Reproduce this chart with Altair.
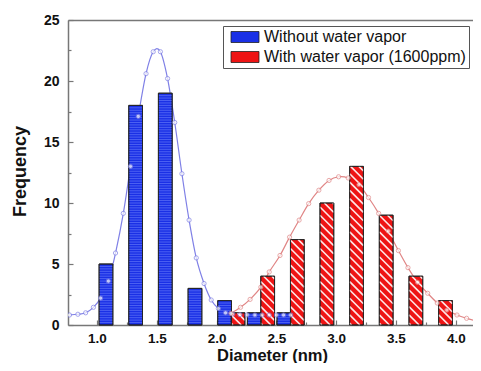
import altair as alt
import pandas as pd
import numpy as np

# ---------------- data ----------------
blue_label = "Without water vapor"
red_label = "With water vapor (1600ppm)"

blue_centers = [1.075, 1.323, 1.571, 1.819, 2.067, 2.315, 2.563]
blue_counts = [5, 18, 19, 3, 2, 1, 1]

red_centers = [2.179, 2.427, 2.675, 2.922, 3.170, 3.418, 3.666, 3.914]
red_counts = [1, 4, 7, 10, 13, 9, 4, 2]

bar_width = 0.115

blue_fit_x = [0.77, 0.84, 0.905, 0.97, 1.03, 1.095, 1.155, 1.22, 1.28, 1.345, 1.41, 1.47,
              1.53, 1.59, 1.65, 1.71, 1.77, 1.83, 1.895, 1.955, 2.015, 2.075, 2.135,
              2.195, 2.255, 2.32, 2.38, 2.44, 2.50, 2.56, 2.62]
blue_fit_y = [0.82, 0.88, 1.0, 1.45, 2.2, 3.6, 5.9, 9.15, 13.0, 17.1, 20.6, 22.4,
              22.4, 20.2, 16.6, 12.4, 8.6, 5.5, 3.4, 2.05, 1.35, 1.0, 0.9,
              0.85, 0.83, 0.82, 0.82, 0.82, 0.82, 0.82, 0.82]

red_fit_x = [2.12, 2.20, 2.28, 2.37, 2.44, 2.53, 2.61, 2.69, 2.77, 2.855, 2.94, 3.02, 3.10,
             3.19, 3.27, 3.355, 3.435, 3.52, 3.60, 3.68, 3.765, 3.845, 3.925, 4.01, 4.09, 4.175]
red_fit_y = [0.95, 1.45, 2.1, 3.1, 4.35, 5.7, 7.2, 8.6, 9.95, 11.05, 11.85, 12.15, 12.05,
             11.5, 10.45, 9.15, 7.7, 6.1, 4.7, 3.5, 2.6, 1.8, 1.22, 0.82, 0.55, 0.3]

x_major = [1.0, 1.5, 2.0, 2.5, 3.0, 3.5, 4.0]
x_minor = [1.25, 1.75, 2.25, 2.75, 3.25, 3.75]
y_major = [0, 5, 10, 15, 20, 25]
y_minor = [2.5, 7.5, 12.5, 17.5, 22.5]

# ---------------- styling ----------------
FONT = "Liberation Sans"
BLUE = "#1a30e6"
BLUE_LINE = "#5b6ef5"
RED = "#ee1414"
BLUE_CURVE = "#7f80e6"
RED_CURVE = "#e08585"
AXIS_GREY = "#777777"
W, H = 405, 305
PX_PER_NM = 119.6
XDOM = [0.7575, 0.7575 + W / PX_PER_NM]

x_scale = alt.Scale(domain=XDOM, nice=False, zero=False)
y_scale = alt.Scale(domain=[0, 25], nice=False, zero=True)

# ---------------- tables ----------------
bars_df = pd.DataFrame({
    "center": blue_centers + red_centers,
    "count": blue_counts + red_counts,
    "series": [blue_label] * len(blue_centers) + [red_label] * len(red_centers),
})
bars_df["x0"] = bars_df["center"] - bar_width / 2
bars_df["x1"] = bars_df["center"] + bar_width / 2
bars_df["base"] = 0.0

# decorative hatching derived from the bar arrays
px_per_unit = H / 25.0
slope = bar_width * PX_PER_NM / px_per_unit   # 45 degree stripes
gap = 8.3 / px_per_unit
rows = []
for c, h in zip(red_centers, red_counts):
    xl = c - bar_width / 2
    k = 0
    while k * gap < h + slope:
        yv = k * gap + 0.15
        t_lo = max(0.0, (yv - h) / slope)
        t_hi = min(1.0, yv / slope)
        if t_hi > t_lo:
            rows.append({"xa": xl + bar_width * t_lo, "ya": yv - slope * t_lo,
                         "xb": xl + bar_width * t_hi, "yb": yv - slope * t_hi})
        k += 1
stripes_df = pd.DataFrame(rows)

hrows = []
for c, h in zip(blue_centers, blue_counts):
    yy = 0.2
    while yy < h - 0.05:
        hrows.append({"xa": c - bar_width / 2, "xb": c + bar_width / 2, "ya": yy})
        yy += 0.2
hlines_df = pd.DataFrame(hrows)

blue_fit = pd.DataFrame({"x": blue_fit_x, "y": blue_fit_y})
red_fit = pd.DataFrame({"x": red_fit_x, "y": red_fit_y})

# ---------------- axes ----------------
x_axis_main = alt.Axis(values=x_major, format=".1f", ticks=False, labelPadding=6,
                       labelFont=FONT, labelFontSize=13.5, labelFontWeight="bold",
                       labelColor="#111111", domainColor=AXIS_GREY, domainWidth=1.5,
                       grid=False, title="Diameter (nm)", titleFont=FONT, titleFontSize=16.5,
                       titleFontWeight="bold", titleColor="#111111", titleBaseline="alphabetic",
                       titleY=35, titleX=204, titleAlign="center")
y_axis_main = alt.Axis(values=y_major, ticks=False, labelPadding=9, labelFont=FONT,
                       labelFontSize=14, labelFontWeight="bold", labelColor="#111111",
                       domainColor=AXIS_GREY, domainWidth=1.5, grid=False,
                       title="Frequency", titleFont=FONT, titleFontSize=18,
                       titleFontWeight="bold", titleColor="#111111", titleAngle=270,
                       titleBaseline="alphabetic", titleAlign="center", titleX=-43, titleY=151)

x_axis_major_ticks = alt.Axis(orient="top", offset=-H, values=x_major, labels=False,
                              domain=False, ticks=True, tickSize=5, tickColor=AXIS_GREY,
                              tickWidth=1.2, grid=False)
x_axis_minor_ticks = alt.Axis(orient="top", offset=-H, values=x_minor, labels=False,
                              domain=False, ticks=True, tickSize=3, tickColor=AXIS_GREY,
                              tickWidth=1.2, grid=False)
x_axis_top_frame = alt.Axis(orient="top", labels=False, ticks=False, domain=True,
                            domainColor=AXIS_GREY, domainWidth=1.5, grid=False)
y_axis_major_ticks = alt.Axis(orient="right", offset=-W, values=y_major, labels=False,
                              domain=False, ticks=True, tickSize=5, tickColor=AXIS_GREY,
                              tickWidth=1.2, grid=False)
y_axis_minor_ticks = alt.Axis(orient="right", offset=-W, values=y_minor, labels=False,
                              domain=False, ticks=True, tickSize=3, tickColor=AXIS_GREY,
                              tickWidth=1.2, grid=False)

# ---------------- layers ----------------
blue_line = alt.Chart(blue_fit).mark_line(interpolate="cardinal", strokeWidth=1.2,
                                          color=BLUE_CURVE, clip=True).encode(
    x=alt.X("x:Q", scale=x_scale, axis=x_axis_main),
    y=alt.Y("y:Q", scale=y_scale, axis=y_axis_main),
)

red_line = alt.Chart(red_fit).mark_line(interpolate="cardinal", strokeWidth=1.2,
                                        color=RED_CURVE, clip=True).encode(
    x=alt.X("x:Q", scale=x_scale, axis=x_axis_major_ticks, title=None),
    y=alt.Y("y:Q", scale=y_scale, axis=y_axis_major_ticks, title=None),
)

bars = alt.Chart(bars_df).mark_bar(stroke="#222222", strokeWidth=0.9).encode(
    x=alt.X("x0:Q", scale=x_scale, axis=x_axis_minor_ticks, title=None),
    x2="x1:Q",
    y=alt.Y("count:Q", scale=y_scale, axis=y_axis_minor_ticks, title=None),
    y2="base:Q",
    fill=alt.Fill("series:N",
                  scale=alt.Scale(domain=[blue_label, red_label], range=[BLUE, RED]),
                  legend=alt.Legend(title=None, orient="none", legendX=155, legendY=6,
                                    direction="vertical",
                                    symbolType="M-2.545,-1H2.545V1H-2.545Z",
                                    symbolSize=121, symbolStrokeColor="#222222",
                                    symbolStrokeWidth=0.8, symbolOffset=11,
                                    labelOffset=11, labelFont=FONT, labelFontSize=16,
                                    labelColor="#111111", labelLimit=400,
                                    padding=3, strokeColor="#555555",
                                    fillColor="white", rowPadding=4)),
)

hlines = alt.Chart(hlines_df).mark_rule(color=BLUE_LINE, strokeWidth=0.8).encode(
    x=alt.X("xa:Q", scale=x_scale, axis=x_axis_top_frame, title=None),
    x2="xb:Q",
    y=alt.Y("ya:Q", scale=y_scale, axis=None),
)

stripes = alt.Chart(stripes_df).mark_rule(color="#ffe8e8", strokeWidth=1.6).encode(
    x=alt.X("xa:Q", scale=x_scale, axis=None),
    x2="xb:Q",
    y=alt.Y("ya:Q", scale=y_scale, axis=None),
    y2="yb:Q",
)

outlines = alt.Chart(bars_df).mark_bar(fillOpacity=0, stroke="#222222", strokeWidth=0.9).encode(
    x=alt.X("x0:Q", scale=x_scale, axis=None),
    x2="x1:Q",
    y=alt.Y("count:Q", scale=y_scale, axis=None),
    y2="base:Q",
)

blue_pts = alt.Chart(blue_fit).mark_point(shape="circle", size=18, filled=True, fill="white",
                                          stroke=BLUE_CURVE, strokeWidth=1.0, clip=True).encode(
    x=alt.X("x:Q", scale=x_scale, axis=None),
    y=alt.Y("y:Q", scale=y_scale, axis=None),
)
red_pts = alt.Chart(red_fit).mark_point(shape="circle", size=18, filled=True, fill="white",
                                        stroke=RED_CURVE, strokeWidth=1.0, clip=True).encode(
    x=alt.X("x:Q", scale=x_scale, axis=None),
    y=alt.Y("y:Q", scale=y_scale, axis=None),
)

chart = alt.layer(
    blue_line, red_line, bars, hlines, stripes, outlines, blue_pts, red_pts
).resolve_axis(x="independent", y="independent").properties(
    width=W, height=H,
    autosize=alt.AutoSizeParams(type="none"),
    padding={"left": 60, "top": 12, "right": 0, "bottom": 38},
    background="white",
).configure_view(stroke=None)

chart.save("out.html", embed_options={"renderer": "svg", "actions": False})
